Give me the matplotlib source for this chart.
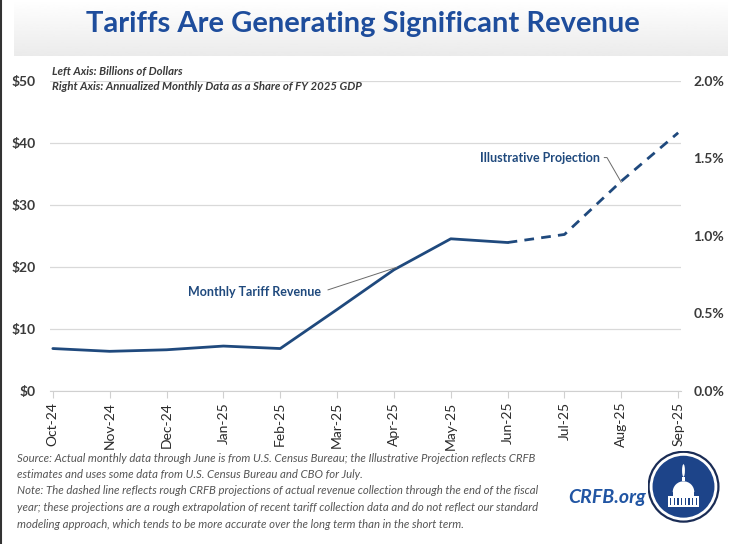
import numpy as np
import matplotlib.pyplot as plt
from matplotlib.patches import Circle, Rectangle, Ellipse, Wedge

plt.rcParams['font.family'] = ['Lato', 'DejaVu Sans']

# data (billions of dollars)
months = ['Oct-24', 'Nov-24', 'Dec-24', 'Jan-25', 'Feb-25', 'Mar-25',
          'Apr-25', 'May-25', 'Jun-25', 'Jul-25', 'Aug-25', 'Sep-25']
actual = [6.8, 6.35, 6.6, 7.2, 6.8, 13.1, 19.5, 24.5, 23.9]
projection = [23.9, 25.2, 33.8, 41.6]   # Jun-25 .. Sep-25
left_ticks = [0, 10, 20, 30, 40, 50]
left_labels = ['$0', '$10', '$20', '$30', '$40', '$50']
right_ticks = [0, 0.005, 0.010, 0.015, 0.020]
right_labels = ['0.0%', '0.5%', '1.0%', '1.5%', '2.0%']

W, H = 743, 544
navy = '#1f497d'
txt = '#3a3a3a'

fig = plt.figure(figsize=(W / 100, H / 100), dpi=100)

# title banner with gradient
bg = fig.add_axes([14 / W, 1 - 56 / H, (728 - 14) / W, 56 / H])
grad = np.linspace(1.0, 0.92, 100).reshape(-1, 1)
bg.imshow(grad, cmap='gray', vmin=0, vmax=1, aspect='auto', extent=[0, 1, 0, 1])
bg.axis('off')
fig.text(363 / W, 1 - 24 / H, 'Tariffs Are Generating Significant Revenue',
         ha='center', va='center', fontsize=21, fontweight='bold', color='#1e4d9c')

# left border artifact
fig.add_artist(plt.Line2D([1 / W, 1 / W], [0, 1], color='#333333', lw=1.5))

ax = fig.add_axes([50 / W, (H - 390.7) / H, (681 - 50) / W, (390.7 - 80.7) / H])
x = np.arange(len(months))
ax.plot(x[:len(actual)], actual, color=navy, lw=2.0, solid_capstyle='round')
ax.plot(x[len(actual) - 1:], projection, color=navy, lw=2.0, ls=(0, (3.5, 2.6)))

ax.set_xlim(-0.05, 11.05)
ax.set_ylim(0, 50)
ax.set_yticks(left_ticks)
ax.set_yticklabels(left_labels)
ax.grid(axis='y', color='#d9d9d9', lw=0.9)
ax.set_axisbelow(True)
ax.set_xticks(x)
ax.set_xticklabels(months, rotation=90)
for s in ['top', 'right', 'left']:
    ax.spines[s].set_visible(False)
ax.spines['bottom'].set_color('#d0d0d0')
ax.tick_params(axis='x', length=5, color='#d0d0d0', pad=3, labelsize=10, labelcolor='#2a2a2a')
ax.tick_params(axis='y', length=0, pad=10, labelsize=10, labelcolor=txt)
for t in ax.get_yticklabels():
    t.set_fontweight('bold')

ax2 = ax.twinx()
ax2.set_ylim(0, 0.02)
ax2.set_yticks(right_ticks)
ax2.set_yticklabels(right_labels)
for s in ax2.spines.values():
    s.set_visible(False)
ax2.tick_params(axis='y', length=0, pad=9, labelsize=10, labelcolor=txt)
for t in ax2.get_yticklabels():
    t.set_fontweight('bold')

fig.text(52 / W, 1 - 72 / H, 'Left Axis: Billions of Dollars', fontsize=8.2,
         style='italic', fontweight='bold', color=txt, va='center')
fig.text(52 / W, 1 - 86 / H, 'Right Axis: Annualized Monthly Data as a Share of FY 2025 GDP',
         fontsize=8.2, style='italic', fontweight='bold', color=txt, va='center')

ax.annotate('Monthly Tariff Revenue', xy=(6.05, 19.9), xytext=(3.55, 15.9),
            ha='center', va='center', fontsize=9, fontweight='bold', color=navy,
            arrowprops=dict(arrowstyle='-', color='#6a6a6a', lw=0.7,
                            relpos=(1, 0.5), shrinkA=3, shrinkB=0))
ax.annotate('Illustrative Projection', xy=(10.0, 33.6), xytext=(8.57, 37.6),
            ha='center', va='center', fontsize=9, fontweight='bold', color=navy,
            arrowprops=dict(arrowstyle='-', color='#6a6a6a', lw=0.7,
                            relpos=(1, 0.5), shrinkA=1, shrinkB=0,
                            connectionstyle='angle,angleA=0,angleB=-60,rad=0'))

notes = [
    'Source: Actual monthly data through June is from U.S. Census Bureau; the Illustrative Projection reflects CRFB',
    'estimates and uses some data from U.S. Census Bureau and CBO for July.',
    'Note: The dashed line reflects rough CRFB projections of actual revenue collection through the end of the fiscal',
    'year; these projections are a rough extrapolation of recent tariff collection data and do not reflect our standard',
    'modeling approach, which tends to be more accurate over the long term than in the short term.',
]
for i, line in enumerate(notes):
    fig.text(17 / W, 1 - (458 + 16.5 * i) / H, line, fontsize=8.2, style='italic',
             color='#555555', va='center')

fig.text(607 / W, 1 - 498 / H, 'CRFB.org', ha='center', va='center', fontsize=14,
         fontweight='bold', style='italic', color='#2155a3')

# logo
lg = fig.add_axes([(683.5 - 36) / W, 1 - (486.7 + 36) / H, 72 / W, 72 / H])
lg.set_xlim(-1, 1)
lg.set_ylim(-1, 1)
lg.set_aspect('equal')
lg.axis('off')
lg.add_patch(Circle((0, 0), 0.97, fc='white', ec='#1a2c55', lw=1.6))
lg.add_patch(Circle((0, 0), 0.86, fc='#1d4489', ec='none'))
lg.add_patch(Rectangle((-0.42, -0.55), 0.84, 0.28, fc='white', ec='none'))
for cx in np.linspace(-0.36, 0.36, 8):
    lg.add_patch(Rectangle((cx - 0.02, -0.52), 0.04, 0.22, fc='#1d4489', ec='none'))
lg.add_patch(Rectangle((-0.3, -0.27), 0.6, 0.12, fc='white', ec='none'))
lg.add_patch(Wedge((0, -0.15), 0.3, 0, 180, fc='white', ec='none'))
lg.add_patch(Rectangle((-0.03, 0.15), 0.06, 0.12, fc='white', ec='none'))
lg.add_patch(Ellipse((0, 0.45), 0.08, 0.35, fc='white', ec='none'))

fig.savefig('out.png', dpi=100)
